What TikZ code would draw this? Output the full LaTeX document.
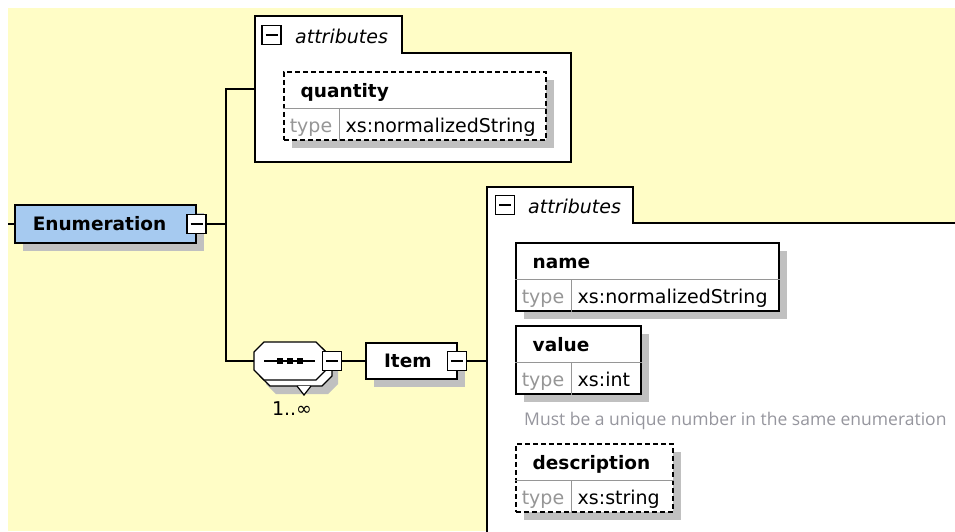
\documentclass[tikz,border=0pt]{standalone}
\usepackage{fontspec}
\setmainfont{DejaVu Sans}
\newfontfamily\notefamily{Open Sans}
\usetikzlibrary{positioning,shadows}

\definecolor{bgyellow}{RGB}{255,253,198}
\definecolor{enumblue}{RGB}{166,202,240}
\definecolor{shadowgray}{RGB}{192,192,192}
\definecolor{typegray}{RGB}{150,150,150}
\definecolor{sepgray}{RGB}{150,150,150}
\definecolor{notegray}{RGB}{150,150,158}

\newcommand\xsbold{\fontsize{18.5}{22}\selectfont\bfseries}
\newcommand\xsplain{\fontsize{19}{22}\selectfont}
\newcommand\xsitalic{\fontsize{19}{22}\selectfont\itshape}
\newcommand\xsnote{\notefamily\fontsize{17.5}{20}\selectfont}

\tikzset{
	boxshadow/.style={drop shadow={shadow xshift=8pt,shadow yshift=-8pt,fill=shadowgray,opacity=1}},
	element/.style={draw, line width=1.5pt, boxshadow, font=\xsbold, align=left, inner xsep=18pt, inner ysep=0pt, text height=14pt, text depth=1pt},
	foldbox/.style={draw, fill=white, line width=1.3pt, minimum size=19pt, inner sep=0pt,
		path picture={\draw[line width=1.3pt] ([xshift=3.5pt]path picture bounding box.west) -- ([xshift=-3.5pt]path picture bounding box.east);}},
	attrtable/.style={draw, fill=white, line width=1.5pt, boxshadow, minimum height=68pt, inner sep=0pt, anchor=north west},
	dashed/.style={dash pattern=on 5pt off 3pt},
	sepline/.style={draw=sepgray, line width=1pt},
	grpbox/.style={draw, fill=white, line width=1.6pt},
	link/.style={line width=1.5pt},
	seqanchor/.style={minimum width=72pt, minimum height=38pt, inner sep=0pt, outer sep=0pt},
	headtext/.style={font=\xsbold, anchor=base west, inner sep=0pt},
	typetext/.style={font=\xsplain, text=typegray, anchor=base, inner sep=0pt},
	valtext/.style={font=\xsplain, anchor=base west, inner sep=0pt},
	grptext/.style={font=\xsitalic, anchor=base west, inner sep=0pt},
	notetext/.style={font=\xsnote, text=notegray, anchor=base west, inner sep=0pt},
	multtext/.style={font=\xsplain, anchor=base, inner sep=0pt},
	seqoct/.pic={\path[pic actions] (-26,-19) -- (26,-19) -- (36,-9) -- (36,9) -- (26,19) -- (-26,19) -- (-36,9) -- (-36,-9) -- cycle;}
}

\begin{document}
\begin{tikzpicture}[x=1pt,y=-1pt]
	\useasboundingbox (0,0) rectangle (955,531);
	\fill[white] (0,0) rectangle (955,531);
	\fill[bgyellow] (8,8) rectangle (955,531);
	
	% attribute groups
	\draw[grpbox] (255,162) -- (255,16) -- (402,16) -- (402,53) -- (571,53) -- (571,162) -- cycle;
	\node[foldbox] (qtygrp-fold) at (271.5,35) {};
	\node[grptext] (qtygrp-text) at (295,43) {attributes};
	
	\fill[white] (487,532) -- (487,187) -- (633,187) -- (633,223) -- (956,223) -- (956,532) -- cycle;
	\draw[grpbox, fill=none] (487,532) -- (487,187) -- (633,187) -- (633,223) -- (956,223);
	\node[foldbox] (itemgrp-fold) at (505,205) {};
	\node[grptext] (itemgrp-text) at (528,213) {attributes};
	
	% nodes
	\node[element, fill=enumblue, text width=145pt, minimum height=38pt, anchor=west] (enum) at (14,224) {Enumeration};
	\node[foldbox] (enum-fold) at (enum.east) {};
	\node[seqanchor] (seq) at (290,361) {};
	\node[foldbox, right=-4pt of seq] (seq-fold) {};
	\node[element, fill=white, text width=55pt, minimum height=36pt, right=23pt of seq-fold] (item) {Item};
	\node[foldbox] (item-fold) at ([xshift=-1pt]item.east) {};
	
	\coordinate (enum-in) at (8,224);
	\coordinate (fork) at (226,224);
	\coordinate (qtygrp-in) at (255,89);
	\coordinate (itemgrp-in) at (487,361);
	
	\draw[link] (enum-in) -- (enum);
	\draw[link] (enum-fold) -- (fork);
	\draw[link] (qtygrp-in) -| (fork) |- (seq);
	\draw[link] (seq-fold) -- (item);
	\draw[link] (item-fold) -- (itemgrp-in);
	
	% sequence compositor
	\pic[fill=shadowgray] at (302,375) {seqoct};
	\pic[draw, fill=white, line width=1.2pt] at (296,367) {seqoct};
	\filldraw[fill=white, line width=1.2pt] (297,386) -- (304,395) -- (311,386);
	\pic[draw, fill=white, line width=1.2pt] at (290,361) {seqoct};
	\draw[line width=1.3pt] ([xshift=-26pt]seq.center) -- ([xshift=25pt]seq.center);
	\foreach \dx in {-10,0,9.5}
		\fill ([xshift=\dx pt]seq.center) +(-3,-3) rectangle +(3,3);
	\node[foldbox] at (seq-fold) {};
	\node[multtext] (seq-mult) at (292,415) {1..∞};
	
	% attribute tables
	\foreach \nm/\px/\py/\w/\lbl/\typ/\bst in {qty/283/71/262/quantity/normalizedString/dashed,
		name/515/242/263/name/normalizedString/solid,
		value/515/325/125/value/int/solid,
		descr/515/443/157/description/string/dashed}
	{
		\node[attrtable, \bst, minimum width=\w pt] (\nm) at (\px,\py) {};
		\draw[sepline] ([yshift=-37pt]\nm.north west) -- ([yshift=-37pt]\nm.north east);
		\draw[sepline] ([xshift=56pt,yshift=-37pt]\nm.north west) -- ([xshift=56pt]\nm.south west);
		\node[headtext] (\nm-head) at ([xshift=17.5pt,yshift=-26.5pt]\nm.north west) {\lbl};
		\node[typetext] (\nm-type) at ([xshift=28pt,yshift=-61pt]\nm.north west) {type};
		\node[valtext] (\nm-val) at ([xshift=62.5pt,yshift=-61pt]\nm.north west) {xs:\typ};
	}
	\node[notetext] (value-note) at (524,425) {Must be a unique number in the same enumeration};
\end{tikzpicture}
\end{document}
